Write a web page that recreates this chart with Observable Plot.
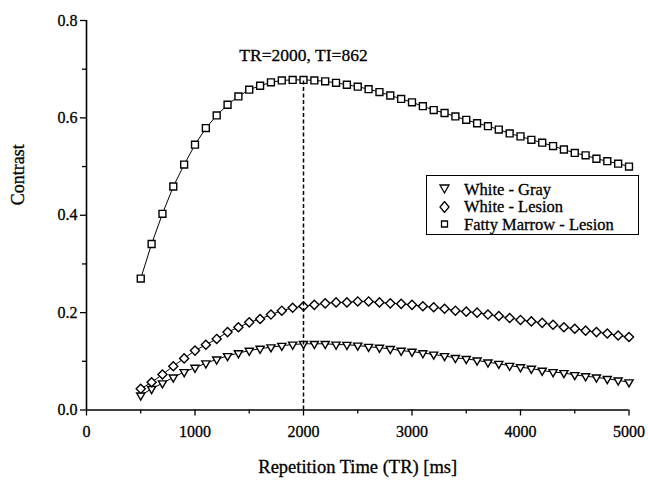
<!DOCTYPE html>
<html><head><meta charset="utf-8">
<script src="https://cdn.jsdelivr.net/npm/d3@7"></script>
<script src="https://cdn.jsdelivr.net/npm/@observablehq/plot@0.6"></script>
<style>
body{margin:0;background:#fff;}
#wrap{position:relative;width:648px;height:482px;}
#wrap svg, #wrap svg text{font-family:"Liberation Serif","Times New Roman",Times,"DejaVu Serif",serif !important;}
#wrap svg text{stroke:#000;stroke-width:0.3px;}
#legend{position:absolute;left:426px;top:175px;width:213px;height:60px;border:1.3px solid #000;box-sizing:border-box;background:#fff;font-family:"Liberation Serif","Times New Roman",Times,"DejaVu Serif",serif;font-size:16.5px;color:#000;-webkit-text-stroke:0.3px #000;}
.row{position:absolute;left:0;height:17px;line-height:17px;white-space:nowrap;}
.row svg{position:absolute;left:12px;top:2.5px;}
.row span{position:absolute;left:37px;top:0;height:17px;line-height:17px;}
</style>
</head><body>
<div id="wrap"></div>
<script>
// TR values (ms)
const tr = [500,600,700,800,900,1000,1100,1200,1300,1400,1500,1600,1700,1800,1900,2000,
  2100,2200,2300,2400,2500,2600,2700,2800,2900,3000,3100,3200,3300,3400,3500,3600,3700,3800,3900,4000,
  4100,4200,4300,4400,4500,4600,4700,4800,4900,5000];
// Series values (contrast)
const whiteGray = [0.030,0.0435,0.055,0.067,0.078,0.087,0.096,0.104,0.111,0.117,0.122,0.126,0.129,0.132,0.1345,0.136,
  0.136,0.136,0.1345,0.134,0.1325,0.130,0.128,0.1255,0.122,0.120,0.117,0.114,0.111,0.107,0.105,0.102,0.098,0.095,0.091,0.088,
  0.085,0.081,0.078,0.076,0.072,0.0695,0.067,0.064,0.061,0.057];
const whiteLesion = [0.0435,0.057,0.073,0.090,0.106,0.122,0.134,0.146,0.160,0.170,0.180,0.187,0.196,0.204,0.210,0.213,
  0.216,0.219,0.221,0.221,0.223,0.223,0.221,0.219,0.218,0.216,0.213,0.211,0.208,0.204,0.202,0.200,0.196,0.193,0.189,0.185,
  0.182,0.179,0.175,0.170,0.167,0.163,0.160,0.157,0.153,0.150];
const fattyMarrow = [0.270,0.341,0.403,0.459,0.504,0.545,0.579,0.605,0.627,0.644,0.658,0.666,0.673,0.677,0.678,0.678,
  0.677,0.675,0.672,0.668,0.664,0.659,0.653,0.646,0.639,0.632,0.624,0.616,0.610,0.603,0.596,0.589,0.583,0.576,0.568,0.562,
  0.555,0.549,0.542,0.535,0.528,0.523,0.516,0.511,0.506,0.500];
const seriesNames = ["White - Gray","White - Lesion","Fatty Marrow - Lesion"];
// Axis ticks
const xMajor = [0,1000,2000,3000,4000,5000];
const xMinor = [500,1500,2500,3500,4500];
const yMajor = [0,0.2,0.4,0.6,0.8];
const yMinor = [0.1,0.3,0.5,0.7];
// Annotation
const annotTR = [2000];
const annotPeak = [0.678];
const annotLabelY = [0.728];
const annotText = ["TR=2000, TI=862"];
const xTitle = "Repetition Time (TR) [ms]";
const yTitle = "Contrast";

const mk = (vals, s) => tr.map((t,i)=>({tr:t, c:vals[i], s}));
const gray = mk(whiteGray, seriesNames[0]);
const lesion = mk(whiteLesion, seriesNames[1]);
const fatty = mk(fattyMarrow, seriesNames[2]);
const all = gray.concat(lesion, fatty);
const annot = annotTR.map((x,i)=>({x, y:annotLabelY[i], peak:annotPeak[i], text:annotText[i]}));

const chart = Plot.plot({
  width:648, height:482,
  marginLeft:86, marginRight:19.5, marginTop:20, marginBottom:72.5,
  style:{fontFamily:"'Liberation Serif', 'Times New Roman', serif", fontSize:"16px", background:"#fff", color:"#000"},
  x:{domain:[0,5000]},
  y:{domain:[0,0.8]},
  marks:[
    Plot.axisX({ticks:xMajor, tickSize:6, tickPadding:10, tickFormat:d=>String(d), label:null, strokeWidth:1.3}),
    Plot.axisX({ticks:xMinor, tickSize:4, tickFormat:()=>"", label:null, strokeWidth:1.3}),
    Plot.axisY({ticks:yMajor, tickSize:6, tickPadding:3, tickFormat:d3.format(".1f"), label:null, strokeWidth:1.3}),
    Plot.axisY({ticks:yMinor, tickSize:4, tickFormat:()=>"", label:null, strokeWidth:1.3}),
    Plot.ruleY([0], {strokeWidth:1.6}),
    Plot.ruleX([0], {strokeWidth:1.6}),
    Plot.line(all, {x:"tr", y:"c", z:"s", stroke:"#000", strokeWidth:1}),
    Plot.dot(gray, {x:"tr", y:"c", symbol:"triangle2", rotate:180, r:3.9, fill:"#fff", stroke:"#000", strokeWidth:1.4}),
    Plot.dot(lesion, {x:"tr", y:"c", symbol:"diamond2", r:4.1, fill:"#fff", stroke:"#000", strokeWidth:1.4}),
    Plot.dot(fatty, {x:"tr", y:"c", symbol:"square", r:3.9, fill:"#fff", stroke:"#000", strokeWidth:1.4}),
    Plot.ruleX(annot, {x:"x", y1:0, y2:"peak", stroke:"#000", strokeWidth:1.5, strokeDasharray:"4,2.5"}),
    Plot.text(annot, {x:"x", y:"y", text:"text", fontSize:17.5, fill:"#000"}),
    Plot.text([xTitle], {frameAnchor:"bottom", dy:63, fontSize:18.5, fill:"#000"}),
    Plot.text([yTitle], {frameAnchor:"left", rotate:-90, dx:-68, dy:-10, fontSize:18, fill:"#000"})
  ]
});
const wrap = document.getElementById("wrap");
wrap.appendChild(chart);

// Legend
const legend = document.createElement("div");
legend.id = "legend";
const symPaths = [
  "M1,2 L10,2 L5.5,10 Z",
  "M5.5,0.5 L10,6 L5.5,11.5 L1,6 Z",
  "M2.5,3 L8.5,3 L8.5,9 L2.5,9 Z"
];
const rowTops = [4.5, 22, 39.5];
seriesNames.forEach((name,i)=>{
  const r = document.createElement("div");
  r.className = "row";
  r.style.top = rowTops[i] + "px";
  r.innerHTML = `<svg width="12" height="12"><path d="${symPaths[i]}" fill="#fff" stroke="#000" stroke-width="1.3"/></svg><span>${name}</span>`;
  legend.appendChild(r);
});
wrap.appendChild(legend);
</script>
</body></html>
